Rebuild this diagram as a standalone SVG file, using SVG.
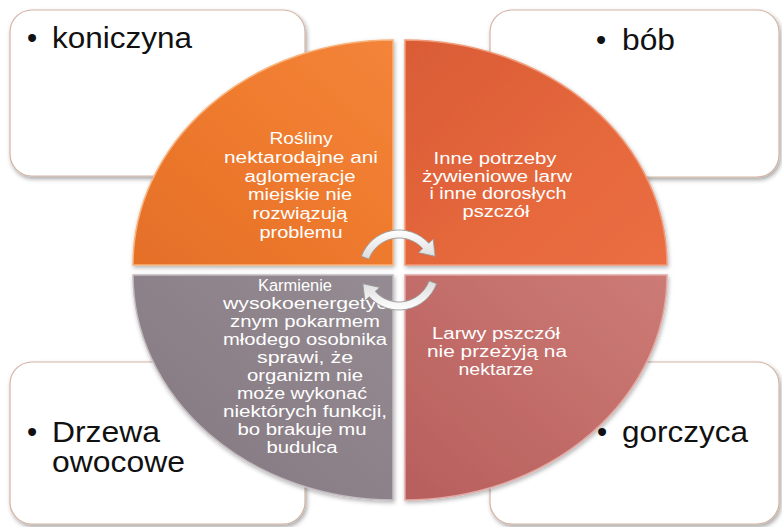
<svg xmlns="http://www.w3.org/2000/svg" width="782" height="527" viewBox="0 0 782 527">
<style>
.box{fill:#fff;stroke:#d2b3a3;stroke-width:1.2;filter:url(#sh)}
.out{font-family:"Liberation Sans",Arial,sans-serif;font-size:29px;fill:#111}
.in{font-family:"Liberation Sans",Arial,sans-serif;font-size:16px;fill:#fff;text-anchor:middle}
.q{stroke-width:1.5;filter:url(#sh2)}
.arrow{fill:url(#ag);stroke:#9a9a9a;stroke-width:0.9}
</style>
<defs>
<filter id="sh" x="-10%" y="-10%" width="120%" height="125%">
<feDropShadow dx="1.5" dy="2.5" stdDeviation="2" flood-color="#000" flood-opacity="0.35"/>
</filter>
<filter id="sh2" x="-10%" y="-10%" width="120%" height="125%">
<feDropShadow dx="1" dy="2" stdDeviation="2" flood-color="#000" flood-opacity="0.3"/>
</filter>
<linearGradient id="gTL" x1="0" y1="1" x2="1" y2="0">
<stop offset="0" stop-color="#e46f28"/><stop offset="0.6" stop-color="#f07c2f"/><stop offset="1" stop-color="#f3843a"/>
</linearGradient>
<linearGradient id="gTR" x1="0" y1="0" x2="1" y2="1">
<stop offset="0" stop-color="#d95c36"/><stop offset="0.6" stop-color="#e6683c"/><stop offset="1" stop-color="#ea6e42"/>
</linearGradient>
<linearGradient id="gBL" x1="1" y1="0" x2="0" y2="1">
<stop offset="0" stop-color="#958b92"/><stop offset="1" stop-color="#847880"/>
</linearGradient>
<linearGradient id="gBR" x1="1" y1="0" x2="0" y2="1">
<stop offset="0" stop-color="#cd7b76"/><stop offset="1" stop-color="#b75f5c"/>
</linearGradient>
<linearGradient id="ag" x1="0" y1="0" x2="0" y2="1">
<stop offset="0" stop-color="#ffffff"/><stop offset="1" stop-color="#dcdcdc"/>
</linearGradient>
</defs>

<g id="box-koniczyna">
<rect class="box" x="10" y="10" width="295" height="166" rx="22"/>
<text class="out" x="27" y="48">•</text>
<text class="out" x="52" y="48" textLength="140" lengthAdjust="spacingAndGlyphs">koniczyna</text>
</g>
<g id="box-bob">
<rect class="box" x="490" y="10" width="289" height="167" rx="22"/>
<text class="out" x="596" y="50">•</text>
<text class="out" x="622" y="50" textLength="53" lengthAdjust="spacingAndGlyphs">bób</text>
</g>
<g id="box-drzewa">
<rect class="box" x="10" y="362" width="295" height="162" rx="22"/>
<text class="out" x="27" y="442">•</text>
<text class="out" x="52" y="442" textLength="108" lengthAdjust="spacingAndGlyphs">Drzewa</text>
<text class="out" x="52" y="472" textLength="133" lengthAdjust="spacingAndGlyphs">owocowe</text>
</g>
<g id="box-gorczyca">
<rect class="box" x="490" y="362" width="289" height="162" rx="22"/>
<text class="out" x="597" y="442">•</text>
<text class="out" x="622" y="442" textLength="126" lengthAdjust="spacingAndGlyphs">gorczyca</text>
</g>

<g id="q-rosliny">
<path class="q" d="M393,265 L133,265 A260,225 0 0 1 393,40 Z" fill="url(#gTL)" stroke="#f8b27a"/>
<text class="in" x="301" y="144" textLength="63" lengthAdjust="spacingAndGlyphs">Rośliny</text>
<text class="in" x="301" y="163" textLength="154" lengthAdjust="spacingAndGlyphs">nektarodajne ani</text>
<text class="in" x="300" y="182" textLength="111" lengthAdjust="spacingAndGlyphs">aglomeracje</text>
<text class="in" x="300" y="200" textLength="104" lengthAdjust="spacingAndGlyphs">miejskie nie</text>
<text class="in" x="300" y="219" textLength="95" lengthAdjust="spacingAndGlyphs">rozwiązują</text>
<text class="in" x="301" y="238" textLength="83" lengthAdjust="spacingAndGlyphs">problemu</text>
</g>
<g id="q-inne">
<path class="q" d="M405,265 L405,40 A262,225 0 0 1 667,265 Z" fill="url(#gTR)" stroke="#f19a78"/>
<text class="in" x="495" y="164" textLength="123" lengthAdjust="spacingAndGlyphs">Inne potrzeby</text>
<text class="in" x="497" y="182" textLength="150" lengthAdjust="spacingAndGlyphs">żywieniowe larw</text>
<text class="in" x="498" y="199" textLength="137" lengthAdjust="spacingAndGlyphs">i inne dorosłych</text>
<text class="in" x="496" y="217" textLength="67" lengthAdjust="spacingAndGlyphs">pszczół</text>
</g>
<g id="q-karmienie">
<path class="q" d="M393,275 L393,500 A260,225 0 0 1 133,275 Z" fill="url(#gBL)" stroke="#c4bcc1"/>
<text class="in" x="295" y="291" textLength="74" lengthAdjust="spacingAndGlyphs">Karmienie</text>
<text class="in" x="305" y="309" textLength="164" lengthAdjust="spacingAndGlyphs">wysokoenergetyc</text>
<text class="in" x="305" y="327" textLength="150" lengthAdjust="spacingAndGlyphs">znym pokarmem</text>
<text class="in" x="305" y="345" textLength="164" lengthAdjust="spacingAndGlyphs">młodego osobnika</text>
<text class="in" x="305" y="363" textLength="96" lengthAdjust="spacingAndGlyphs">sprawi, że</text>
<text class="in" x="305" y="381" textLength="116" lengthAdjust="spacingAndGlyphs">organizm nie</text>
<text class="in" x="302" y="399" textLength="130" lengthAdjust="spacingAndGlyphs">może wykonać</text>
<text class="in" x="305" y="417" textLength="164" lengthAdjust="spacingAndGlyphs">niektórych funkcji,</text>
<text class="in" x="302" y="435" textLength="129" lengthAdjust="spacingAndGlyphs">bo brakuje mu</text>
<text class="in" x="302" y="453" textLength="71" lengthAdjust="spacingAndGlyphs">budulca</text>
</g>
<g id="q-larwy">
<path class="q" d="M405,275 L667,275 A262,225 0 0 1 405,500 Z" fill="url(#gBR)" stroke="#e2a8a4"/>
<text class="in" x="496" y="339" textLength="128" lengthAdjust="spacingAndGlyphs">Larwy pszczół</text>
<text class="in" x="497" y="357" textLength="140" lengthAdjust="spacingAndGlyphs">nie przeżyją na</text>
<text class="in" x="496" y="375" textLength="75" lengthAdjust="spacingAndGlyphs">nektarze</text>
</g>

<g id="connectors">
<path class="arrow" d="M361.41,256.32 A40,40 0 0 1 428.73,243.23 L433.18,239.22 L435.12,256.31 L418.32,252.6 L422.78,248.59 A32,32 0 0 0 368.93,259.06 Z"/>
<path class="arrow" transform="rotate(180 399 270)" d="M361.41,256.32 A40,40 0 0 1 428.73,243.23 L433.18,239.22 L435.12,256.31 L418.32,252.6 L422.78,248.59 A32,32 0 0 0 368.93,259.06 Z"/>
</g>
</svg>
